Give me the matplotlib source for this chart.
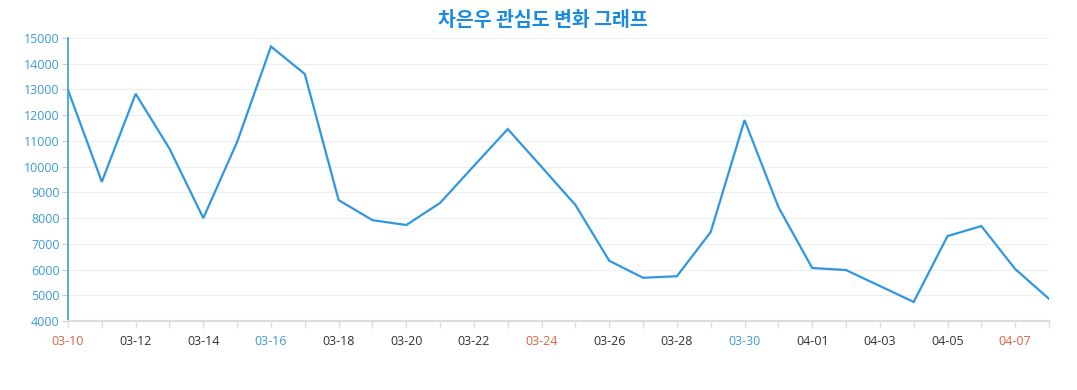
import matplotlib
matplotlib.use("Agg")
import matplotlib.pyplot as plt

dates = ["03-10", "03-11", "03-12", "03-13", "03-14", "03-15", "03-16", "03-17",
         "03-18", "03-19", "03-20", "03-21", "03-22", "03-23", "03-24", "03-25",
         "03-26", "03-27", "03-28", "03-29", "03-30", "03-31", "04-01", "04-02",
         "04-03", "04-04", "04-05", "04-06", "04-07", "04-08"]
values = [12980, 9410, 12830, 10700, 8000, 10960, 14670, 13600,
          8700, 7920, 7730, 8590, 10030, 11460, 9990, 8510,
          6340, 5680, 5740, 7460, 11810, 8430, 6060, 5980,
          5360, 4740, 7300, 7690, 6020, 4860]
# label colours: red = Sunday, blue = Saturday
red_labels = ["03-10", "03-24", "04-07"]
blue_labels = ["03-16", "03-30"]
yticks = list(range(4000, 15001, 1000))
title = "차은우 관심도 변화 그래프"

plt.rcParams['font.family'] = ['Open Sans', 'Noto Sans CJK KR', 'DejaVu Sans']

fig = plt.figure(figsize=(10.77, 3.90), dpi=100)
ax = fig.add_axes([68/1077, 1-321/390, (1049-68)/1077, (321-38)/390])

x = list(range(len(dates)))
ax.plot(x, values, color="#2f97e2", linewidth=1.6, solid_joinstyle="miter")

ax.set_xlim(0, len(dates) - 1)
ax.set_ylim(4000, 15000)
ax.set_yticks(yticks)
ax.set_yticklabels([str(v) for v in yticks], color="#3c9bd6", fontsize=9)
ax.tick_params(axis="y", length=4, color="#cccccc", width=0.8, pad=2)

ax.set_xticks(x, minor=True)
ax.set_xticks(x[::2])
ax.set_xticklabels(dates[::2], fontsize=9)
for lbl in ax.get_xticklabels():
    t = lbl.get_text()
    if t in red_labels:
        lbl.set_color("#e0603f")
    elif t in blue_labels:
        lbl.set_color("#3c9bd6")
    else:
        lbl.set_color("#333333")
ax.tick_params(axis="x", which="both", length=5, color="#dddddd", width=1, pad=5)

ax.grid(axis="y", color="#eeeeee", linewidth=0.8)
ax.set_axisbelow(True)
for s in ["top", "right"]:
    ax.spines[s].set_visible(False)
ax.spines["left"].set_color("#3c9bd6")
ax.spines["left"].set_linewidth(1.2)
ax.spines["bottom"].set_color("#dddddd")
ax.spines["bottom"].set_linewidth(1.5)

fig.text(543/1077, 1-20/390, title, ha="center", va="center", fontsize=14,
         fontweight="bold", color="#1a8be0",
         family=['Noto Sans CJK KR', 'DejaVu Sans'])

fig.savefig("out.png", dpi=100)
